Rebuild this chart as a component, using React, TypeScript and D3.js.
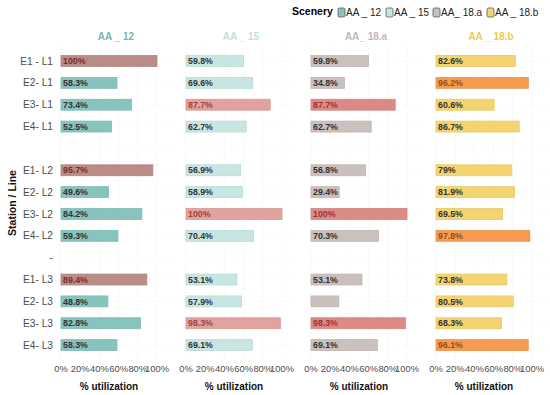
import * as d3 from 'd3';

const rows = ['E1 - L1', 'E2- L1', 'E3- L1', 'E4- L1', ' ', 'E1- L2', 'E2- L2', 'E3- L2', 'E4- L2', '-', 'E1- L3', 'E2- L3', 'E3- L3', 'E4- L3'];
const scenarios = ['AA _ 12', 'AA _ 15', 'AA_ 18.a', 'AA _ 18.b'];

const aa12 = [100, 58.3, 73.4, 52.5, null, 95.7, 49.6, 84.2, 59.3, null, 89.4, 48.8, 82.8, 58.3];
const aa15 = [59.8, 69.6, 87.7, 62.7, null, 56.9, 58.9, 100, 70.4, null, 53.1, 57.9, 98.3, 69.1];
const aa18a = [59.8, 34.8, 87.7, 62.7, null, 56.8, 29.4, 100, 70.3, null, 53.1, 29, 98.3, 69.1];
const aa18b = [82.6, 96.2, 60.6, 86.7, null, 79, 81.9, 69.5, 97.8, null, 73.8, 80.5, 68.3, 96.1];

// rows drawn in the highlight colour, per scenario
const aa12Peak = ['E1 - L1', 'E1- L2', 'E1- L3'];
const aa15Peak = ['E3- L1', 'E3- L2', 'E3- L3'];
const aa18aPeak = ['E3- L1', 'E3- L2', 'E3- L3'];
const aa18bPeak = ['E2- L1', 'E4- L2', 'E4- L3'];
const aa18aNoLabel = ['E2- L3'];

const xTicks = [0, 20, 40, 60, 80, 100];

const series = [
  { name: scenarios[0], values: aa12, peak: aa12Peak, noLabel: [], fill: '#86c4bd', title: '#72b9b0', peakFill: '#b98c87', peakText: '#7a2d29' },
  { name: scenarios[1], values: aa15, peak: aa15Peak, noLabel: [], fill: '#c7e6e1', title: '#bfe1dc', peakFill: '#e2a29d', peakText: '#a4423e' },
  { name: scenarios[2], values: aa18a, peak: aa18aPeak, noLabel: aa18aNoLabel, fill: '#cac0be', title: '#c2b8b6', peakFill: '#dc8a86', peakText: '#9b3632' },
  { name: scenarios[3], values: aa18b, peak: aa18bPeak, noLabel: [], fill: '#f3d470', title: '#f3c94a', peakFill: '#f59c52', peakText: '#9c4d16' },
];

const font = 'Liberation Sans, Arial, sans-serif';

export default function App() {
  const W = 550;
  const H = 395;
  const panel = d3.scaleBand().domain(scenarios).range([61, 546]).paddingInner(0.12).paddingOuter(0);
  const x = d3.scaleLinear().domain([0, 114.6]).range([0, panel.bandwidth()]);
  const y = d3.scaleBand().domain(rows).range([47.9, 358.2]).paddingInner(0.5).paddingOuter(0.35);
  const legendX = [338, 386, 433, 487];

  return (
    <svg width={W} height={H} style={{ position: 'absolute', left: 0, top: 0, fontFamily: font }}>
      <rect width={W} height={H} fill="#fff" />
      {/* legend */}
      <text x={292} y={15} fontSize={10.5} fontWeight="bold" fill="#000">Scenery</text>
      {series.map((s, i) => (
        <g key={s.name} transform={`translate(${legendX[i]},0)`}>
          <rect x={0} y={8} width={7} height={9} rx={1.5} fill={s.fill} stroke="#555" strokeWidth={0.8} />
          <text x={8} y={15.5} fontSize={10} fill="#222">{s.name}</text>
        </g>
      ))}

      {/* y axis */}
      {rows.map((r) => (
        <text key={r} x={53} y={(y(r) ?? 0) + y.bandwidth() / 2} dy="0.35em" textAnchor="end" fontSize={10.2} fill="#4d4d4d">
          {r.trim() === '' ? '' : r}
        </text>
      ))}
      <text transform={`translate(16,203) rotate(-90)`} textAnchor="middle" fontSize={10.5} fontWeight="bold" fill="#111">Station / Line</text>

      {series.map((s) => {
        const x0 = panel(s.name) ?? 0;
        return (
          <g key={s.name} transform={`translate(${x0},0)`}>
            <text x={panel.bandwidth() / 2} y={40} textAnchor="middle" fontSize={10} fontWeight="bold" fill={s.title}>{s.name}</text>
            {/* grid */}
            {xTicks.map((t) => (
              <line key={t} x1={x(t)} x2={x(t)} y1={47.9} y2={358.2} stroke="#ececec" strokeWidth={0.6} strokeDasharray="2,2" />
            ))}
            {rows.map((r) => (
              <line key={r} x1={0} x2={panel.bandwidth()} y1={(y(r) ?? 0) + y.bandwidth() / 2} y2={(y(r) ?? 0) + y.bandwidth() / 2} stroke="#f3f3f3" strokeWidth={0.6} strokeDasharray="2,2" />
            ))}
            {/* bars */}
            {rows.map((r, i) => {
              const v = s.values[i];
              if (v == null) return null;
              const isPeak = s.peak.includes(r);
              const yy = y(r) ?? 0;
              return (
                <g key={r}>
                  <rect x={x(0)} y={yy} width={x(v) - x(0)} height={y.bandwidth()} fill={isPeak ? s.peakFill : s.fill} stroke={d3.color(isPeak ? s.peakFill : s.fill)?.darker(0.15).toString()} strokeWidth={0.8} />
                  {!s.noLabel.includes(r) && (
                    <text x={x(0) + 2} y={yy + y.bandwidth() / 2} dy="0.36em" fontSize={8.8} fontWeight="bold" fill={isPeak ? s.peakText : '#333'}>{`${v}%`}</text>
                  )}
                </g>
              );
            })}
            {/* x axis */}
            {xTicks.map((t) => (
              <text key={t} x={x(t)} y={372} textAnchor="middle" fontSize={9.4} fill="#4d4d4d">{`${t}%`}</text>
            ))}
            <text x={x(50)} y={390} textAnchor="middle" fontSize={10} fontWeight="bold" fill="#111">% utilization</text>
          </g>
        );
      })}
    </svg>
  );
}
